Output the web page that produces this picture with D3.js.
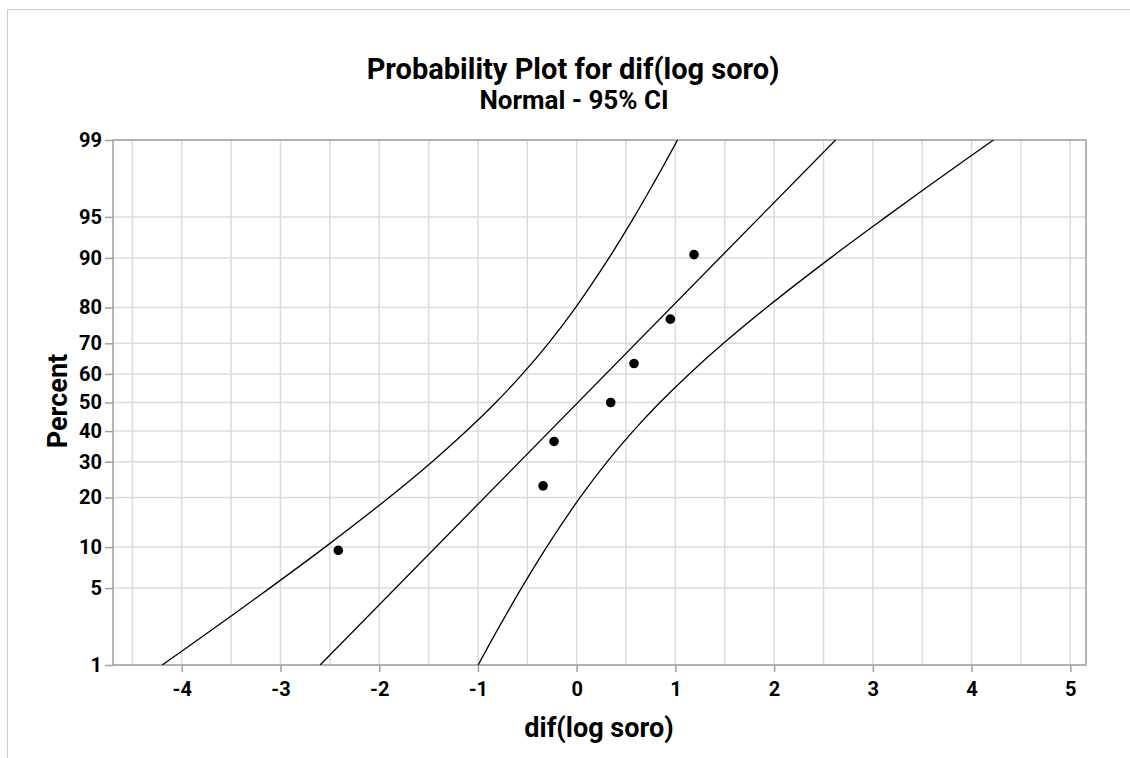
<!DOCTYPE html>
<html>
<head>
<meta charset="utf-8">
<script src="https://cdn.jsdelivr.net/npm/d3@7"></script>
<style>
  body { margin: 0; background: #fff; }
  text { font-family: Roboto, 'Noto Sans', sans-serif; fill: #000; }
</style>
</head>
<body>
<svg id="chart" width="1130" height="758"></svg>
<script>
// tick labels
let percentTicks = [1, 5, 10, 20, 30, 40, 50, 60, 70, 80, 90, 95, 99]
let xTicks = [-4, -3, -2, -1, 0, 1, 2, 3, 4, 5]
let xGrid = [-4.5, -4, -3.5, -3, -2.5, -2, -1.5, -1, -0.5, 0, 0.5, 1, 1.5, 2, 2.5, 3, 3.5, 4, 4.5, 5]

// observed values and their plotting percents
let sampleX = [-2.414, -0.340, -0.229, 0.345, 0.581, 0.949, 1.189]
let samplePct = [9.5, 23.0, 36.5, 50.0, 63.5, 77.0, 90.5]

// fitted line (ends)
let fitPct = [1, 99]
let fitX = [-2.598, 2.622]

// 95% CI band, read along the percent levels
let bandPct = [1, 2, 3, 5, 10, 20, 30, 40, 50, 60, 70, 80, 90, 95, 97, 98, 99]
let lowerX = [-4.198, -3.758, -3.481, -3.109, -2.548, -1.900, -1.463, -1.117, -0.819, -0.548, -0.286, -0.011, 0.328, 0.583, 0.739, 0.851, 1.022]
let upperX = [-0.998, -0.827, -0.715, -0.559, -0.304, 0.035, 0.310, 0.572, 0.843, 1.141, 1.487, 1.924, 2.572, 3.133, 3.505, 3.782, 4.222]

const GRID_COLOR = '#dcdcdc'
const AXIS_COLOR = '#a0a0a0'

// inverse normal cdf (Acklam) for the probability axis
function probit(p) {
  let a = [-39.69683028665376, 220.9460984245205, -275.9285104469687, 138.3577518672690, -30.66479806614716, 2.506628277459239]
  let b = [-54.47609879822406, 161.5858368580409, -155.6989798598866, 66.80131188771972, -13.28068155288572]
  let c = [-0.007784894002430293, -0.3223964580411365, -2.400758277161838, -2.549732539343734, 4.374664141464968, 2.938163982698783]
  let d = [0.007784695709041462, 0.3224671290700398, 2.445134137142996, 3.754408661907416]
  let pl = 0.02425
  let q, r
  if (p < pl) {
    q = Math.sqrt(-2 * Math.log(p))
    return (((((c[0] * q + c[1]) * q + c[2]) * q + c[3]) * q + c[4]) * q + c[5]) / ((((d[0] * q + d[1]) * q + d[2]) * q + d[3]) * q + 1)
  }
  if (p > 1 - pl) {
    q = Math.sqrt(-2 * Math.log(1 - p))
    return -(((((c[0] * q + c[1]) * q + c[2]) * q + c[3]) * q + c[4]) * q + c[5]) / ((((d[0] * q + d[1]) * q + d[2]) * q + d[3]) * q + 1)
  }
  q = p - 0.5
  r = q * q
  return (((((a[0] * r + a[1]) * r + a[2]) * r + a[3]) * r + a[4]) * r + a[5]) * q / (((((b[0] * r + b[1]) * r + b[2]) * r + b[3]) * r + b[4]) * r + 1)
}

let plot = { left: 113, right: 1086, top: 140, bottom: 665 }

let svg = d3.select('#chart')

let x = d3.scaleLinear().domain([-4.696, 5.159]).range([plot.left, plot.right])
let zScale = d3.scaleLinear().domain([probit(0.01), probit(0.99)]).range([plot.bottom, plot.top])
let y = pct => zScale(probit(pct / 100))

// outer graph frame
svg.append('path')
  .attr('d', 'M7.5,758 V9.5 H1130')
  .attr('fill', 'none')
  .attr('stroke', '#cfcfcf')

// Titles
svg.append('text')
  .attr('x', 573).attr('y', 79)
  .attr('text-anchor', 'middle')
  .style('font-size', '29px').style('font-weight', 'bold')
  .text('Probability Plot for dif(log soro)')

svg.append('text')
  .attr('x', 574).attr('y', 109)
  .attr('text-anchor', 'middle')
  .style('font-size', '26px').style('font-weight', 'bold')
  .text('Normal - 95% CI')

// Gridlines
svg.append('g')
  .selectAll('line.vgrid')
  .data(xGrid)
  .join('line')
  .attr('class', 'vgrid')
  .attr('x1', d => x(d)).attr('x2', d => x(d))
  .attr('y1', plot.top).attr('y2', plot.bottom)
  .attr('stroke', GRID_COLOR).attr('stroke-width', 1.5)

svg.append('g')
  .selectAll('line.hgrid')
  .data(percentTicks)
  .join('line')
  .attr('class', 'hgrid')
  .attr('x1', plot.left).attr('x2', plot.right)
  .attr('y1', d => y(d)).attr('y2', d => y(d))
  .attr('stroke', GRID_COLOR).attr('stroke-width', 1.5)

// Axes (plain hyphen for negatives, like the original)
let xAxis = d3.axisBottom(x).tickValues(xTicks).tickSize(7).tickPadding(10).tickFormat(d => String(d))
let gx = svg.append('g')
  .attr('transform', `translate(0,${plot.bottom})`)
  .call(xAxis)

let yAxis = d3.axisLeft(zScale)
  .tickValues(percentTicks.map(p => probit(p / 100)))
  .tickFormat((d, i) => percentTicks[i])
  .tickSize(8).tickPadding(3)
let gy = svg.append('g')
  .attr('transform', `translate(${plot.left},0)`)
  .call(yAxis)

;[gx, gy].forEach(g => {
  g.select('.domain').remove()
  g.selectAll('.tick line').attr('stroke', AXIS_COLOR).attr('stroke-width', 1.5)
  g.selectAll('.tick text')
    .style('font-family', 'Roboto, sans-serif')
    .style('font-size', '20px')
    .style('font-weight', 'bold')
    .attr('fill', '#000')
})

// plot frame
svg.append('rect')
  .attr('x', plot.left).attr('y', plot.top)
  .attr('width', plot.right - plot.left).attr('height', plot.bottom - plot.top)
  .attr('fill', 'none')
  .attr('stroke', AXIS_COLOR).attr('stroke-width', 1.5)

// clip for curves
svg.append('clipPath').attr('id', 'plotClip')
  .append('rect')
  .attr('x', plot.left).attr('y', plot.top)
  .attr('width', plot.right - plot.left).attr('height', plot.bottom - plot.top)

let line = d3.line()
  .x(d => x(d[0]))
  .y(d => y(d[1]))
  .curve(d3.curveCatmullRom)

let curves = [
  d3.zip(lowerX, bandPct),
  d3.zip(fitX, fitPct),
  d3.zip(upperX, bandPct),
]

svg.append('g')
  .attr('clip-path', 'url(#plotClip)')
  .selectAll('path.curve')
  .data(curves)
  .join('path')
  .attr('class', 'curve')
  .attr('d', line)
  .attr('fill', 'none')
  .attr('stroke', '#000')
  .attr('stroke-width', 1.3)

// Sample points
svg.append('g')
  .selectAll('circle')
  .data(d3.zip(sampleX, samplePct))
  .join('circle')
  .attr('cx', d => x(d[0]))
  .attr('cy', d => y(d[1]))
  .attr('r', 4.8)
  .attr('fill', '#000')

// Axis titles
svg.append('text')
  .attr('x', 599).attr('y', 737)
  .attr('text-anchor', 'middle')
  .style('font-size', '27px').style('font-weight', 'bold')
  .text('dif(log soro)')

svg.append('text')
  .attr('transform', 'translate(67,401) rotate(-90)')
  .attr('text-anchor', 'middle')
  .style('font-size', '27px').style('font-weight', 'bold')
  .text('Percent')
</script>
</body>
</html>
